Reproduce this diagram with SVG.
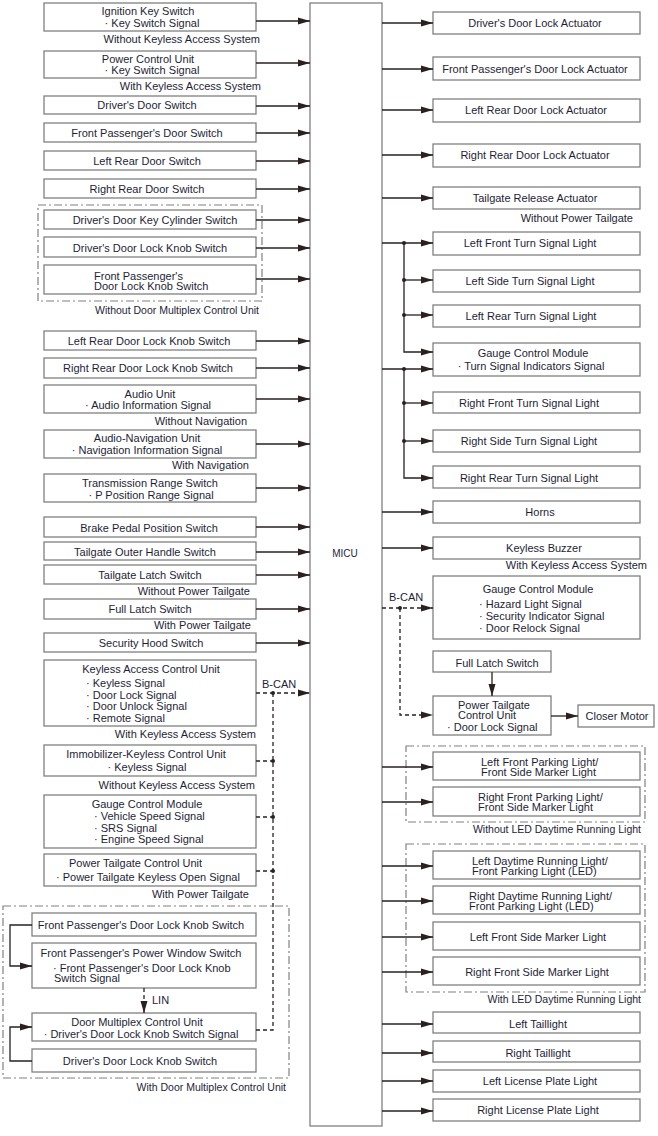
<svg xmlns="http://www.w3.org/2000/svg" width="658" height="1136" viewBox="0 0 658 1136">
<style>
.b{fill:#fff;stroke:#808080;stroke-width:1.3}
.t{font-family:"Liberation Sans",Arial,sans-serif;font-size:11px;fill:#1e1e36}
.s{font-size:10.5px}
.m{text-anchor:middle}
.e{text-anchor:end}
.c{fill:none;stroke:#2a2020;stroke-width:1.3}
.d{stroke-dasharray:4 3}
.g{fill:none;stroke:#808080;stroke-width:1.2;stroke-dasharray:8 3 2 3}
.dot{fill:#2a2020}
</style>
<defs>
<marker id="a" markerWidth="12" markerHeight="8" refX="12" refY="4" orient="auto" markerUnits="userSpaceOnUse"><path d="M0,0.5 L12,4 L0,7.5z" fill="#2a2020"/></marker>
</defs>
<rect width="658" height="1136" fill="#fff"/>

<!-- group frames -->
<rect class="g" x="38" y="205" width="224" height="96"/>
<rect class="g" x="3" y="906" width="286" height="172"/>
<rect class="g" x="406" y="746" width="239" height="76"/>
<rect class="g" x="406" y="844" width="239" height="148"/>

<!-- MICU -->
<g id="micu"><rect class="b" x="310" y="3" width="72" height="1123"/><text class="t m" x="345" y="557" style="font-size:10px">MICU</text></g>

<!-- left nodes -->
<g id="ignition"><rect class="b" x="44" y="3" width="212" height="28"/><text class="t m" x="148" y="15">Ignition Key Switch</text><text class="t m" x="152" y="27">· Key Switch Signal</text></g>
<g id="pcu"><rect class="b" x="44" y="51" width="212" height="27"/><text class="t m" x="148" y="63">Power Control Unit</text><text class="t m" x="152" y="74">· Key Switch Signal</text></g>
<g id="drvdoor"><rect class="b" x="44" y="96" width="212" height="18"/><text class="t m" x="147" y="109">Driver's Door Switch</text></g>
<g id="fpdoor"><rect class="b" x="44" y="123" width="212" height="19"/><text class="t m" x="147" y="137">Front Passenger's Door Switch</text></g>
<g id="lrdoor"><rect class="b" x="44" y="151" width="212" height="19"/><text class="t m" x="147" y="165">Left Rear Door Switch</text></g>
<g id="rrdoor"><rect class="b" x="44" y="179" width="212" height="19"/><text class="t m" x="147" y="193">Right Rear Door Switch</text></g>
<g id="keycyl"><rect class="b" x="44" y="210" width="212" height="19"/><text class="t m" x="155" y="224">Driver's Door Key Cylinder Switch</text></g>
<g id="drvknob"><rect class="b" x="44" y="237" width="212" height="20"/><text class="t m" x="150" y="252">Driver's Door Lock Knob Switch</text></g>
<g id="fpknob"><rect class="b" x="44" y="265" width="212" height="29"/><text class="t" x="94" y="280">Front Passenger's</text><text class="t" x="94" y="290">Door Lock Knob Switch</text></g>
<g id="lrknob"><rect class="b" x="44" y="331" width="212" height="19"/><text class="t m" x="149" y="345">Left Rear Door Lock Knob Switch</text></g>
<g id="rrknob"><rect class="b" x="44" y="358" width="212" height="20"/><text class="t m" x="148" y="372">Right Rear Door Lock Knob Switch</text></g>
<g id="audio"><rect class="b" x="44" y="385" width="212" height="28"/><text class="t m" x="150" y="398">Audio Unit</text><text class="t m" x="148" y="409">· Audio Information Signal</text></g>
<g id="audionav"><rect class="b" x="44" y="430" width="212" height="28"/><text class="t m" x="147" y="442">Audio-Navigation Unit</text><text class="t m" x="147" y="454">· Navigation Information Signal</text></g>
<g id="trans"><rect class="b" x="44" y="474" width="212" height="28"/><text class="t m" x="150" y="487">Transmission Range Switch</text><text class="t m" x="151" y="499">· P Position Range Signal</text></g>
<g id="brake"><rect class="b" x="44" y="517" width="212" height="20"/><text class="t m" x="149" y="532">Brake Pedal Position Switch</text></g>
<g id="tgouter"><rect class="b" x="44" y="542" width="212" height="18"/><text class="t m" x="145" y="556">Tailgate Outer Handle Switch</text></g>
<g id="tglatch"><rect class="b" x="44" y="565" width="212" height="19"/><text class="t m" x="150" y="579">Tailgate Latch Switch</text></g>
<g id="fulllatchL"><rect class="b" x="44" y="599" width="212" height="20"/><text class="t m" x="150" y="613">Full Latch Switch</text></g>
<g id="hood"><rect class="b" x="44" y="633" width="212" height="19"/><text class="t m" x="151" y="647">Security Hood Switch</text></g>
<g id="keyless"><rect class="b" x="44" y="660" width="212" height="66"/><text class="t m" x="151" y="673">Keyless Access Control Unit</text><text class="t" x="86" y="687">· Keyless Signal</text><text class="t" x="86" y="699">· Door Lock Signal</text><text class="t" x="86" y="710">· Door Unlock Signal</text><text class="t" x="86" y="722">· Remote Signal</text></g>
<g id="immob"><rect class="b" x="44" y="745" width="212" height="31"/><text class="t m" x="146" y="758">Immobilizer-Keyless Control Unit</text><text class="t m" x="147" y="771">· Keyless Signal</text></g>
<g id="gaugeL"><rect class="b" x="44" y="795" width="212" height="53"/><text class="t m" x="147" y="808">Gauge Control Module</text><text class="t" x="94" y="820">· Vehicle Speed Signal</text><text class="t" x="94" y="832">· SRS Signal</text><text class="t" x="94" y="843">· Engine Speed Signal</text></g>
<g id="ptcuL"><rect class="b" x="44" y="854" width="212" height="32"/><text class="t" x="69" y="867">Power Tailgate Control Unit</text><text class="t" x="56" y="881">· Power Tailgate Keyless Open Signal</text></g>
<g id="fpknob2"><rect class="b" x="32" y="913" width="224" height="23"/><text class="t m" x="141" y="929">Front Passenger's Door Lock Knob Switch</text></g>
<g id="fpwin"><rect class="b" x="32" y="943" width="224" height="45"/><text class="t m" x="141" y="957">Front Passenger's Power Window Switch</text><text class="t" x="53" y="972">· Front Passenger's Door Lock Knob</text><text class="t" x="54" y="982">Switch Signal</text></g>
<g id="dmcu"><rect class="b" x="32" y="1013" width="224" height="28"/><text class="t m" x="137" y="1026">Door Multiplex Control Unit</text><text class="t m" x="141" y="1038">· Driver's Door Lock Knob Switch Signal</text></g>
<g id="drvknob2"><rect class="b" x="32" y="1049" width="224" height="23"/><text class="t m" x="140" y="1065">Driver's Door Lock Knob Switch</text></g>

<!-- right nodes -->
<g id="drvact"><rect class="b" x="433" y="12" width="207" height="22"/><text class="t m" x="535" y="27">Driver's Door Lock Actuator</text></g>
<g id="fpact"><rect class="b" x="433" y="57" width="207" height="23"/><text class="t m" x="535" y="73">Front Passenger's Door Lock Actuator</text></g>
<g id="lract"><rect class="b" x="433" y="99" width="207" height="23"/><text class="t m" x="536" y="114">Left Rear Door Lock Actuator</text></g>
<g id="rract"><rect class="b" x="433" y="144" width="207" height="23"/><text class="t m" x="535" y="159">Right Rear Door Lock Actuator</text></g>
<g id="tgrel"><rect class="b" x="433" y="187" width="207" height="22"/><text class="t m" x="535" y="202">Tailgate Release Actuator</text></g>
<g id="lfturn"><rect class="b" x="433" y="232" width="207" height="23"/><text class="t m" x="530" y="247">Left Front Turn Signal Light</text></g>
<g id="lsturn"><rect class="b" x="433" y="270" width="207" height="22"/><text class="t m" x="530" y="285">Left Side Turn Signal Light</text></g>
<g id="lrturn"><rect class="b" x="433" y="305" width="207" height="22"/><text class="t m" x="531" y="320">Left Rear Turn Signal Light</text></g>
<g id="gaugeT"><rect class="b" x="433" y="343" width="207" height="33"/><text class="t m" x="533" y="357">Gauge Control Module</text><text class="t m" x="531" y="370">· Turn Signal Indicators Signal</text></g>
<g id="rfturn"><rect class="b" x="433" y="392" width="207" height="21"/><text class="t m" x="529" y="407">Right Front Turn Signal Light</text></g>
<g id="rsturn"><rect class="b" x="433" y="430" width="207" height="22"/><text class="t m" x="529" y="445">Right Side Turn Signal Light</text></g>
<g id="rrturn"><rect class="b" x="433" y="466" width="207" height="22"/><text class="t m" x="529" y="482">Right Rear Turn Signal Light</text></g>
<g id="horns"><rect class="b" x="433" y="501" width="207" height="22"/><text class="t m" x="540" y="516">Horns</text></g>
<g id="buzzer"><rect class="b" x="433" y="537" width="207" height="22"/><text class="t m" x="544" y="552">Keyless Buzzer</text></g>
<g id="gaugeH"><rect class="b" x="433" y="576" width="207" height="63"/><text class="t m" x="538" y="593">Gauge Control Module</text><text class="t" x="479" y="608">· Hazard Light Signal</text><text class="t" x="479" y="620">· Security Indicator Signal</text><text class="t" x="479" y="632">· Door Relock Signal</text></g>
<g id="fulllatchR"><rect class="b" x="433" y="651" width="118" height="21"/><text class="t m" x="497" y="667">Full Latch Switch</text></g>
<g id="ptcuR"><rect class="b" x="433" y="696" width="118" height="39"/><text class="t" x="458" y="709">Power Tailgate</text><text class="t" x="458" y="719">Control Unit</text><text class="t" x="447" y="731">· Door Lock Signal</text></g>
<g id="closer"><rect class="b" x="578" y="705" width="76" height="22"/><text class="t m" x="617" y="720">Closer Motor</text></g>
<g id="lfpark"><rect class="b" x="433" y="752" width="207" height="28"/><text class="t" x="481" y="766">Left Front Parking Light/</text><text class="t" x="481" y="776">Front Side Marker Light</text></g>
<g id="rfpark"><rect class="b" x="433" y="787" width="207" height="29"/><text class="t" x="478" y="801">Right Front Parking Light/</text><text class="t" x="478" y="811">Front Side Marker Light</text></g>
<g id="ldrl"><rect class="b" x="433" y="851" width="207" height="28"/><text class="t" x="472" y="865">Left Daytime Running Light/</text><text class="t" x="472" y="875">Front Parking Light (LED)</text></g>
<g id="rdrl"><rect class="b" x="433" y="886" width="207" height="28"/><text class="t" x="469" y="900">Right Daytime Running Light/</text><text class="t" x="469" y="910">Front Parking Light (LED)</text></g>
<g id="lfsm"><rect class="b" x="433" y="922" width="207" height="28"/><text class="t m" x="538" y="941">Left Front Side Marker Light</text></g>
<g id="rfsm"><rect class="b" x="433" y="957" width="207" height="28"/><text class="t m" x="537" y="976">Right Front Side Marker Light</text></g>
<g id="ltail"><rect class="b" x="433" y="1012" width="207" height="21"/><text class="t m" x="538" y="1028">Left Taillight</text></g>
<g id="rtail"><rect class="b" x="433" y="1041" width="207" height="21"/><text class="t m" x="538" y="1057">Right Taillight</text></g>
<g id="llic"><rect class="b" x="433" y="1070" width="207" height="22"/><text class="t m" x="540" y="1085">Left License Plate Light</text></g>
<g id="rlic"><rect class="b" x="433" y="1099" width="207" height="22"/><text class="t m" x="538" y="1114">Right License Plate Light</text></g>

<!-- condition labels -->
<g id="labels">
<text class="t e" x="260" y="43">Without Keyless Access System</text>
<text class="t e" x="261" y="90">With Keyless Access System</text>
<text class="t s e" x="259" y="314">Without Door Multiplex Control Unit</text>
<text class="t e" x="247" y="425">Without Navigation</text>
<text class="t e" x="249" y="469">With Navigation</text>
<text class="t e" x="250" y="595">Without Power Tailgate</text>
<text class="t e" x="251" y="629">With Power Tailgate</text>
<text class="t e" x="256" y="738">With Keyless Access System</text>
<text class="t e" x="255" y="789">Without Keyless Access System</text>
<text class="t e" x="249" y="898">With Power Tailgate</text>
<text class="t s e" x="286" y="1091">With Door Multiplex Control Unit</text>
<text class="t e" x="633" y="222">Without Power Tailgate</text>
<text class="t e" x="647" y="569">With Keyless Access System</text>
<text class="t s e" x="641" y="833">Without LED Daytime Running Light</text>
<text class="t s e" x="641" y="1003">With LED Daytime Running Light</text>
<text class="t" x="262" y="688">B-CAN</text>
<text class="t" x="389" y="601">B-CAN</text>
<text class="t" x="152" y="1004">LIN</text>
</g>

<!-- connectors -->
<g id="connectors" marker-end="url(#a)">
<path class="c" d="M256,21H310"/>
<path class="c" d="M256,63H310"/>
<path class="c" d="M256,106H310"/>
<path class="c" d="M256,133H310"/>
<path class="c" d="M256,161H310"/>
<path class="c" d="M256,189H310"/>
<path class="c" d="M256,220H310"/>
<path class="c" d="M256,248H310"/>
<path class="c" d="M256,279H310"/>
<path class="c" d="M256,341H310"/>
<path class="c" d="M256,368H310"/>
<path class="c" d="M256,399H310"/>
<path class="c" d="M256,444H310"/>
<path class="c" d="M256,488H310"/>
<path class="c" d="M256,527H310"/>
<path class="c" d="M256,552H310"/>
<path class="c" d="M256,575H310"/>
<path class="c" d="M256,609H310"/>
<path class="c" d="M256,643H310"/>
<path class="c d" d="M256,693H310"/>
<path class="c d" d="M256,761H273" marker-end="none"/>
<path class="c d" d="M256,817H273" marker-end="none"/>
<path class="c d" d="M256,871H273" marker-end="none"/>
<path class="c d" d="M273,693V1030H256" marker-end="none"/>
<path class="c" d="M32,925H10V966H32"/>
<path class="c" d="M32,1061H10V1027H32"/>
<path class="c d" d="M144,988V1013"/>

<path class="c" d="M382,23H433"/>
<path class="c" d="M382,69H433"/>
<path class="c" d="M382,110H433"/>
<path class="c" d="M382,155H433"/>
<path class="c" d="M382,198H433"/>
<path class="c" d="M382,243H433"/>
<path class="c" d="M404,243V352H433"/>
<path class="c" d="M404,280H433"/>
<path class="c" d="M404,315H433"/>
<path class="c" d="M382,369H433"/>
<path class="c" d="M404,369V478H433"/>
<path class="c" d="M404,403H433"/>
<path class="c" d="M404,441H433"/>
<path class="c" d="M382,512H433"/>
<path class="c" d="M382,548H433"/>
<path class="c d" d="M382,608H433"/>
<path class="c d" d="M400,608V715H433"/>
<path class="c" d="M492,672V696"/>
<path class="c" d="M551,716H578"/>
<path class="c" d="M382,767H433"/>
<path class="c" d="M382,802H433"/>
<path class="c" d="M382,866H433"/>
<path class="c" d="M382,901H433"/>
<path class="c" d="M382,937H433"/>
<path class="c" d="M382,972H433"/>
<path class="c" d="M382,1024H433"/>
<path class="c" d="M382,1053H433"/>
<path class="c" d="M382,1081H433"/>
<path class="c" d="M382,1111H433"/>
<g marker-end="none">
<circle class="dot" cx="273" cy="693" r="2"/>
<circle class="dot" cx="273" cy="761" r="2"/>
<circle class="dot" cx="273" cy="817" r="2"/>
<circle class="dot" cx="273" cy="871" r="2"/>
<circle class="dot" cx="404" cy="243" r="2"/>
<circle class="dot" cx="404" cy="280" r="2"/>
<circle class="dot" cx="404" cy="315" r="2"/>
<circle class="dot" cx="404" cy="369" r="2"/>
<circle class="dot" cx="404" cy="403" r="2"/>
<circle class="dot" cx="404" cy="441" r="2"/>
<circle class="dot" cx="400" cy="608" r="2"/>
</g>
</g>
</svg>
